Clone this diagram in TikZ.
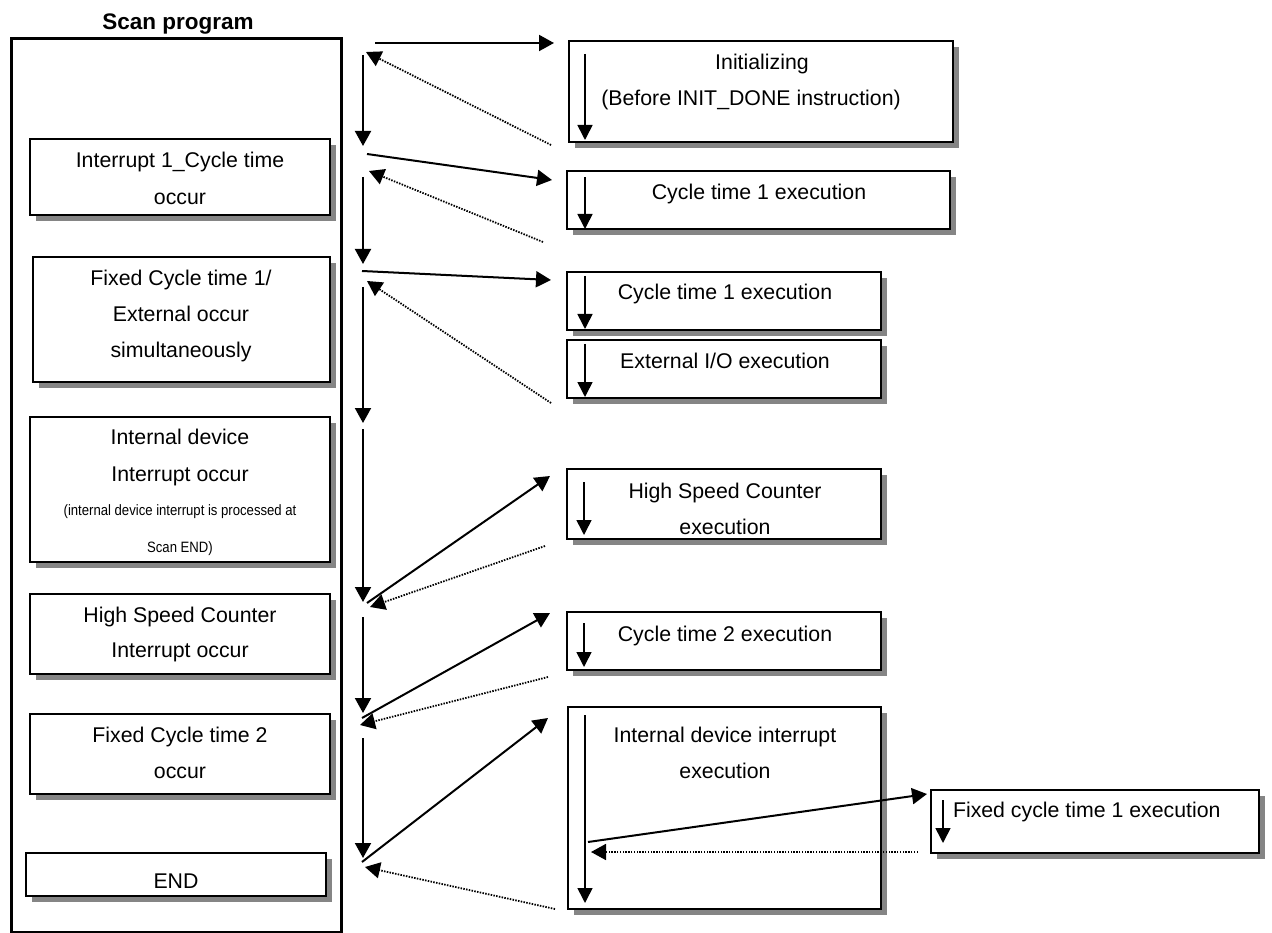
\documentclass[tikz,border=0pt]{standalone}
\usepackage{fontspec}
\setmainfont{Liberation Sans}
\newfontfamily\notefont{Liberation Sans}[FakeStretch=0.875]
\usetikzlibrary{arrows.meta,shadows}

\begin{document}
\begin{tikzpicture}[x=1pt,y=-1pt,
  every node/.style={inner sep=0pt, outer sep=0pt},
  txt/.style={anchor=base, font=\fontsize{21.3pt}{25pt}\selectfont},
  note/.style={anchor=base, font=\notefont\fontsize{15pt}{18pt}\selectfont},
  panel/.style={draw=black, line width=2pt, fill=white, anchor=north west,
    drop shadow={shadow xshift=6pt, shadow yshift=-6pt, fill=black!48, opacity=1}},
  flow/.style={line width=2pt, -{Triangle[length=15pt,width=16pt]}},
  back/.style={line width=1.8pt, dash pattern=on 1.5pt off 1.3pt, -{Triangle[length=15pt,width=16pt]}},
  inner/.style={line width=1.6pt, -{Triangle[length=15pt,width=15pt]}},
]
\useasboundingbox (0,0) rectangle (1272,933);

% scan program frame and title
\node[draw=black, line width=3pt, minimum width=330pt, minimum height=893pt, anchor=north west] (scan) at (11,39) {};
\node[anchor=base, font=\bfseries\fontsize{22.5pt}{26pt}\selectfont] (title) at (178,30) {Scan program};

% events inside the scan program
\node[panel, minimum width=300pt, minimum height=76pt]  (b1) at (30,139) {};
\node[panel, minimum width=297pt, minimum height=125pt] (b2) at (33,257) {};
\node[panel, minimum width=300pt, minimum height=145pt] (b3) at (30,417) {};
\node[panel, minimum width=300pt, minimum height=80pt]  (b4) at (30,594) {};
\node[panel, minimum width=300pt, minimum height=80pt]  (b5) at (30,714) {};
\node[panel, minimum width=300pt, minimum height=43pt]  (b6) at (26,853) {};

\node[txt] (b1a) at (180,168) {Interrupt 1\_Cycle time};
\node[txt] (b1b) at (180,205) {occur};
\node[txt] (b2a) at (181,286) {Fixed Cycle time 1/};
\node[txt] (b2b) at (181,322) {External occur};
\node[txt] (b2c) at (181,358) {simultaneously};
\node[txt] (b3a) at (180,444) {Internal device};
\node[txt] (b3b) at (180,481) {Interrupt occur};
\node[note] (b3c) at (180,515) {(internal device interrupt is processed at};
\node[note] (b3d) at (180,552) {Scan END)};
\node[txt] (b4a) at (180,622) {High Speed Counter};
\node[txt] (b4b) at (180,657) {Interrupt occur};
\node[txt] (b5a) at (180,742) {Fixed Cycle time 2};
\node[txt] (b5b) at (180,778) {occur};
\node[txt] (b6a) at (176,888) {END};

% interrupt tasks
\node[panel, minimum width=384pt, minimum height=101pt] (r1) at (569,41) {};
\node[panel, minimum width=383pt, minimum height=58pt]  (r2) at (567,171) {};
\node[panel, minimum width=314pt, minimum height=58pt]  (r3) at (567,272) {};
\node[panel, minimum width=314pt, minimum height=58pt]  (r4) at (567,340) {};
\node[panel, minimum width=314pt, minimum height=70pt]  (r5) at (567,469) {};
\node[panel, minimum width=314pt, minimum height=58pt]  (r6) at (567,612) {};
\node[panel, minimum width=313pt, minimum height=202pt] (r7) at (568,707) {};
\node[panel, minimum width=328pt, minimum height=63pt]  (r8) at (931,790) {};

\node[txt] (r1a) at (762,70) {Initializing};
\node[txt] (r1b) at (751,106) {(Before INIT\_DONE instruction)};
\node[txt] (r2a) at (759,200) {Cycle time 1 execution};
\node[txt] (r3a) at (725,300) {Cycle time 1 execution};
\node[txt] (r4a) at (725,368) {External I/O execution};
\node[txt] (r5a) at (725,498) {High Speed Counter};
\node[txt] (r5b) at (725,534) {execution};
\node[txt] (r6a) at (725,641) {Cycle time 2 execution};
\node[txt] (r7a) at (725,742) {Internal device interrupt};
\node[txt] (r7b) at (725,778) {execution};
\node[txt, anchor=base west] (r8a) at (953,817) {Fixed cycle time 1 execution};

% scan time line
\coordinate (v1s) at (363,55);  \coordinate (v1e) at (363,146);
\coordinate (v2s) at (363,177); \coordinate (v2e) at (363,264);
\coordinate (v3s) at (363,287); \coordinate (v3e) at (363,423);
\coordinate (v4s) at (363,429); \coordinate (v4e) at (363,602);
\coordinate (v5s) at (363,617); \coordinate (v5e) at (363,713);
\coordinate (v6s) at (363,738); \coordinate (v6e) at (363,858);
\foreach \i in {1,...,6} \draw[flow] (v\i s) -- (v\i e);

% jumps into the tasks
\coordinate (a1s) at (375,43);  \coordinate (a1e) at (554,43);
\coordinate (a2s) at (367,154); \coordinate (a2e) at (552,180);
\coordinate (a3s) at (362,271); \coordinate (a3e) at (551,280);
\coordinate (a4s) at (367,603); \coordinate (a4e) at (550,476);
\coordinate (a5s) at (362,718); \coordinate (a5e) at (550,613);
\coordinate (a6s) at (362,862); \coordinate (a6e) at (548,718);
\coordinate (a7s) at (588,842); \coordinate (a7e) at (927,794);
\foreach \i in {1,...,7} \draw[flow] (a\i s) -- (a\i e);

% returns from the tasks
\coordinate (d1s) at (551,145); \coordinate (d1e) at (366,52);
\coordinate (d2s) at (543,242); \coordinate (d2e) at (369,171);
\coordinate (d3s) at (551,403); \coordinate (d3e) at (367,281);
\coordinate (d4s) at (545,546); \coordinate (d4e) at (370,607);
\coordinate (d5s) at (548,677); \coordinate (d5e) at (360,725);
\coordinate (d6s) at (555,909); \coordinate (d6e) at (365,867);
\coordinate (d7s) at (918,852); \coordinate (d7e) at (591,852);
\foreach \i in {1,...,7} \draw[back] (d\i s) -- (d\i e);

% execution inside each task
\coordinate (i1s) at (585,54);  \coordinate (i1e) at (585,140);
\coordinate (i2s) at (585,177); \coordinate (i2e) at (585,229);
\coordinate (i3s) at (585,276); \coordinate (i3e) at (585,329);
\coordinate (i4s) at (585,344); \coordinate (i4e) at (585,397);
\coordinate (i5s) at (584,482); \coordinate (i5e) at (584,535);
\coordinate (i6s) at (584,623); \coordinate (i6e) at (584,667);
\coordinate (i7s) at (585,715); \coordinate (i7e) at (585,903);
\coordinate (i8s) at (943,800); \coordinate (i8e) at (943,843);
\foreach \i in {1,...,8} \draw[inner] (i\i s) -- (i\i e);

\end{tikzpicture}
\end{document}
